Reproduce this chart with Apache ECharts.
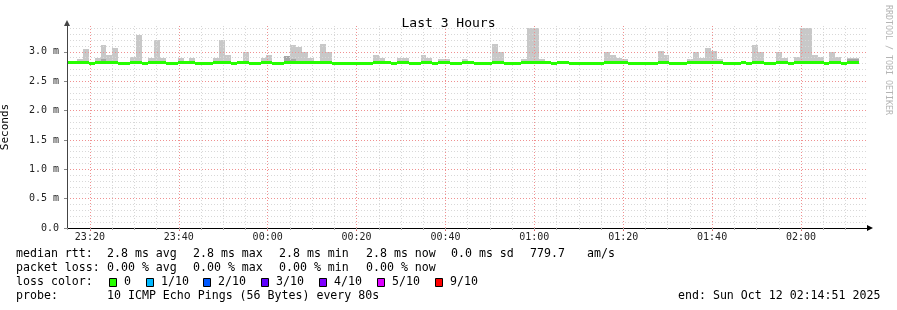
<!DOCTYPE html>
<html><head><meta charset="utf-8">
<script src="https://cdn.jsdelivr.net/npm/echarts@6/dist/echarts.min.js"></script>
<style>html,body{margin:0;padding:0;background:#fff}#c{width:897px;height:310px}</style>
</head><body><div id="c"></div><script>
// ---- data ----
const graphStart = '23:14:51';
const graphEnd = '02:14:51';
const firstBarStart = '23:14:24';
const stepSeconds = 80;
const xLabels = ['23:20','23:40','00:00','00:20','00:40','01:00','01:20','01:40','02:00'];
const yLabels = ['0.0','0.5 m','1.0 m','1.5 m','2.0 m','2.5 m','3.0 m'];
const yMax = 3.44;
const smokeFloor = 2.79;
const smokeHigh = [
  2.85,2.85,2.88,3.04,2.83,2.89,3.11,2.94,3.06,2.83,
  2.83,2.92,3.28,2.83,2.89,3.20,2.89,2.83,2.83,2.90,
  2.85,2.90,2.83,2.83,2.83,2.89,3.20,2.94,2.83,2.85,
  3.00,2.83,2.83,2.89,2.95,2.83,2.83,2.93,3.12,3.09,
  3.00,2.89,2.85,3.14,2.99,2.83,2.83,2.83,2.83,2.83,
  2.83,2.83,2.95,2.90,2.85,2.83,2.90,2.90,2.83,2.83,
  2.94,2.89,2.83,2.87,2.87,2.83,2.83,2.87,2.85,2.83,
  2.83,2.83,3.14,2.99,2.83,2.83,2.83,2.87,3.40,3.40,
  2.87,2.85,2.83,2.85,2.85,2.83,2.83,2.83,2.83,2.83,
  2.83,2.99,2.94,2.89,2.87,2.83,2.83,2.83,2.83,2.83,
  3.02,2.94,2.83,2.83,2.83,2.87,2.99,2.90,3.06,3.02,
  2.87,2.83,2.83,2.83,2.85,2.83,3.12,2.99,2.83,2.83,
  2.99,2.90,2.83,2.92,3.40,3.40,2.95,2.92,2.83,2.99,
  2.92,2.83,2.90,2.89
];
const smokeDark = [[6,2.87],[37,2.93],[38,2.88],[132,2.87],[133,2.87]];
const medianRtt = [
  2.81,2.81,2.81,2.81,2.80,2.81,2.81,2.81,2.81,2.80,
  2.80,2.81,2.81,2.80,2.81,2.81,2.81,2.80,2.80,2.81,
  2.81,2.81,2.80,2.80,2.80,2.81,2.81,2.81,2.80,2.81,
  2.81,2.80,2.80,2.81,2.81,2.80,2.80,2.81,2.81,2.81,
  2.81,2.81,2.81,2.81,2.81,2.80,2.80,2.80,2.80,2.80,
  2.80,2.80,2.81,2.81,2.81,2.80,2.81,2.81,2.80,2.80,
  2.81,2.81,2.80,2.81,2.81,2.80,2.80,2.81,2.81,2.80,
  2.80,2.80,2.81,2.81,2.80,2.80,2.80,2.81,2.81,2.81,
  2.81,2.81,2.80,2.81,2.81,2.80,2.80,2.80,2.80,2.80,
  2.80,2.81,2.81,2.81,2.81,2.80,2.80,2.80,2.80,2.80,
  2.81,2.81,2.80,2.80,2.80,2.81,2.81,2.81,2.81,2.81,
  2.81,2.80,2.80,2.80,2.81,2.80,2.81,2.81,2.80,2.80,
  2.81,2.81,2.80,2.81,2.81,2.81,2.81,2.81,2.80,2.81,
  2.81,2.80,2.81,2.81
];
const lossColors = [
  ['0','#26ff00'],['1/10','#00b8ff'],['2/10','#0059ff'],['3/10','#5e00ff'],
  ['4/10','#7e00ff'],['5/10','#dd00ff'],['9/10','#ff0000']
];
const legendLines = [
  [['median rtt:',16],['2.8 ms avg',107],['2.8 ms max',193],['2.8 ms min',279],['2.8 ms now',366],['0.0 ms sd',451],['779.7',530],['am/s',587]],
  [['packet loss:',16],['0.00 % avg',107],['0.00 % max',193],['0.00 % min',279],['0.00 % now',366]],
  [['loss color:',16]],
  [['probe:',16],['10 ICMP Echo Pings (56 Bytes) every 80s',107],['end: Sun Oct 12 02:14:51 2025',678]]
];

// ---- helpers ----
function toMin(s){ const p=s.split(':').map(Number); let h=p[0]; if(h>=12) h-=24; return h*60+p[1]+(p[2]||0)/60; }
function fmt(m){ let t=Math.round(m); t=((t%1440)+1440)%1440; const h=Math.floor(t/60), mm=t%60; return String(h).padStart(2,'0')+':'+String(mm).padStart(2,'0'); }
const xMin = toMin(graphStart), xMax = toMin(graphStart)+180;
const t0 = toMin(firstBarStart), stepMin = stepSeconds/60;
const smokeData = smokeHigh.map((v,k)=>[t0+k*stepMin, t0+(k+1)*stepMin, smokeFloor, v]);
const darkData = smokeDark.map(([k,v])=>[t0+k*stepMin, t0+(k+1)*stepMin, smokeFloor, v]);
const medData = medianRtt.map((v,k)=>[t0+k*stepMin, t0+(k+1)*stepMin, v]);
const majorX = xLabels.map(toMin);
const MINOR='#d8d8d8', MAJOR='#f09090';
const gridLines = [];
for(let m=Math.ceil(xMin/5)*5; m<xMax; m+=5){
  const major = majorX.some(v=>Math.abs(v-m)<1e-6);
  gridLines.push({xAxis:m, lineStyle:{color: major?MAJOR:MINOR, type:[1,2], width:1}});
}
for(let k=1;k<=34;k++){
  const v=k/10; const major = k%5===0;
  gridLines.push({yAxis:v, lineStyle:{color: major?MAJOR:MINOR, type:[1,2], width:1}});
}
const allFiveMin=[]; for(let m=Math.ceil(xMin/5)*5; m<xMax; m+=5) allFiveMin.push(m);

function rectRender(color){
  return function(params, api){
    const p0 = api.coord([api.value(0), api.value(3)]);
    const p1 = api.coord([api.value(1), api.value(2)]);
    const x0=Math.round(p0[0]), x1=Math.round(p1[0]), y0=Math.round(p0[1]), y1=Math.round(p1[1]);
    return {type:'rect', shape:{x:x0,y:y0,width:x1-x0,height:y1-y0}, style:{fill:color}};
  };
}
function medianRender(params, api){
  const p0 = api.coord([api.value(0), api.value(2)]);
  const p1 = api.coord([api.value(1), api.value(2)]);
  const x0=Math.round(p0[0]), x1=Math.round(p1[0]), yc=Math.round(p0[1]-1.5);
  return {type:'rect', shape:{x:x0,y:yc,width:x1-x0,height:3}, style:{fill:'#26ff00'}};
}

const MONO='"DejaVu Sans Mono", monospace';
const graphics = [];
legendLines.forEach((line,i)=>{
  const y=[254,268,282,296][i];
  line.forEach(([t,x])=>graphics.push({type:'text', x:x, y:y, style:{text:t, font:'11.6px '+MONO, fill:'#000', verticalAlign:'middle', align:'left'}}));
});
const boxX=[109,146,203,261,319,377,435];
lossColors.forEach(([lab,col],i)=>{
  graphics.push({type:'rect', shape:{x:boxX[i]+0.5,y:278.5,width:7,height:8}, style:{fill:col, stroke:'#000', lineWidth:1}});
  graphics.push({type:'text', x:boxX[i]+15, y:282, style:{text:lab, font:'11.6px '+MONO, fill:'#000', verticalAlign:'middle', align:'left'}});
});
graphics.push({type:'text', x:888, y:5, rotation:-Math.PI/2, style:{text:'RRDTOOL / TOBI OETIKER', font:'8.3px '+MONO, fill:'#b4b4b4', verticalAlign:'middle', align:'left'}});

const chart = echarts.init(document.getElementById('c'), null, {renderer:'canvas'});
chart.setOption({
  animation:false,
  backgroundColor:'#ffffff',
  title:{text:'Last 3 Hours', left:'center', top:12, textStyle:{fontFamily:'DejaVu Sans Mono', fontSize:13, fontWeight:'normal', color:'#000'}},
  grid:{left:67, top:26, width:800, height:202, containLabel:false, outerBoundsMode:'none'},
  xAxis:[{
    type:'value', min:xMin, max:xMax, position:'bottom', z:6,
    axisLine:{show:true, onZero:false, lineStyle:{color:'#000', width:1}, symbol:['none','triangle'], symbolSize:[6,6], symbolOffset:[0,3]},
    axisTick:{show:true, customValues:majorX, length:3, lineStyle:{color:'#e06060'}},
    axisLabel:{show:true, customValues:majorX, formatter:v=>fmt(v), margin:4, fontFamily:'DejaVu Sans Mono', fontSize:10, color:'#222'},
    splitLine:{show:false}
  },{
    type:'value', min:xMin, max:xMax, position:'bottom', z:6,
    axisLine:{show:false, onZero:false},
    axisTick:{show:true, customValues:allFiveMin, length:2, lineStyle:{color:'#aaa'}},
    axisLabel:{show:false}, splitLine:{show:false}
  }],
  yAxis:{
    type:'value', min:0, max:yMax, interval:0.5, position:'left', z:6,
    name:'Seconds', nameLocation:'middle', nameGap:56, nameRotate:90,
    nameTextStyle:{fontFamily:'DejaVu Sans Mono', fontSize:11, color:'#000'},
    axisLine:{show:true, onZero:false, lineStyle:{color:'#444', width:1}, symbol:['none','triangle'], symbolSize:[6,6], symbolOffset:[0,3]},
    axisTick:{show:true, length:3, lineStyle:{color:'#888'}},
    axisLabel:{showMaxLabel:false, margin:8, fontFamily:'DejaVu Sans Mono', fontSize:10, color:'#222',
      formatter:v=>{const i=Math.round(v/0.5); return yLabels[i]!==undefined?yLabels[i]:'';}},
    splitLine:{show:false}
  },
  series:[
    {type:'custom', name:'smoke', z:2, clip:true, renderItem:rectRender('#c8c8c8'), encode:{x:[0,1], y:[2,3]}, data:smokeData,
      markLine:{z:3, silent:true, symbol:['none','none'], label:{show:false}, animation:false, data:gridLines}},
    {type:'custom', name:'smokeDark', z:2, clip:true, renderItem:rectRender('#a6a6a6'), encode:{x:[0,1], y:[2,3]}, data:darkData},
    {type:'custom', name:'median', z:4, clip:true, renderItem:medianRender, encode:{x:[0,1], y:2}, data:medData}
  ],
  graphic:graphics
});
</script></body></html>
